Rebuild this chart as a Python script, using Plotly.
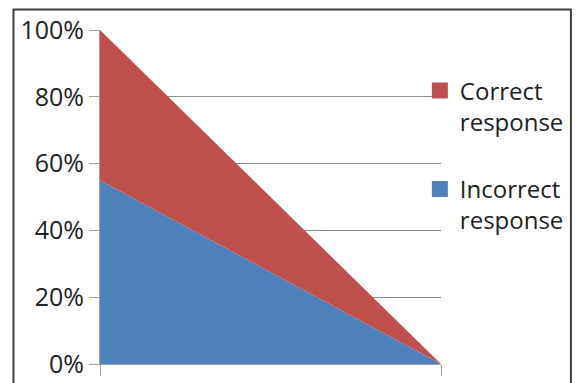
import plotly.graph_objects as go

# Share of responses at the two end points of the scale
x_points = [0, 1]
incorrect_share = [0.55, 0.0]
correct_share = [0.45, 0.0]

area_names = ["Incorrect<br>response", "Correct<br>response"]
area_colors = ["#4F81BD", "#C0504D"]
y_ticks = [0, 0.2, 0.4, 0.6, 0.8, 1.0]

FONT = "Open Sans"

fig = go.Figure()

# Stacked areas (blue on the bottom, red on top)
for name, vals, color in zip(area_names, [incorrect_share, correct_share], area_colors):
    fig.add_trace(go.Scatter(
        x=x_points, y=vals, stackgroup="one", mode="none",
        fillcolor=color, name=name, showlegend=False, hoverinfo="skip",
    ))

# Square swatches for the legend, top entry first
for i, (name, color) in enumerate(zip(area_names[::-1], area_colors[::-1])):
    fig.add_trace(go.Scatter(
        x=[None], y=[None], mode="markers", name=name,
        marker=dict(symbol="square", size=16, color=color),
        legendgroup=f"g{i}",
    ))

fig.update_layout(
    width=579, height=383,
    margin=dict(l=100, r=138, t=30, b=19, autoexpand=False),
    paper_bgcolor="white", plot_bgcolor="white",
    font=dict(family=FONT, size=25, color="#222222"),
    legend=dict(
        x=0.938, y=0.885, xanchor="left", yanchor="top",
        traceorder="grouped", tracegroupgap=33,
        valign="top", itemwidth=30,
        font=dict(family=FONT, size=24, color="#222222"),
        bgcolor="rgba(0,0,0,0)",
    ),
    xaxis=dict(
        range=[0, 1], tickvals=x_points, showticklabels=False,
        ticks="outside", ticklen=11, tickcolor="#A0A0A0",
        showline=True, linecolor="#A0A0A0", linewidth=1,
        showgrid=False, zeroline=False, fixedrange=True, automargin=False,
    ),
    yaxis=dict(
        range=[0, 1], tickvals=y_ticks, tickformat=".0%",
        ticks="outside", ticklen=10, tickcolor="#A0A0A0",
        showline=True, linecolor="#A0A0A0", linewidth=1,
        showgrid=True, gridcolor="#8C8C8C", gridwidth=1,
        zeroline=False, fixedrange=True, automargin=False,
    ),
    showlegend=True,
)

# Outer frame around the chart
fig.add_shape(
    type="rect", xref="paper", yref="paper",
    x0=-0.2537, x1=1.381, y0=-0.09, y1=1.0614,
    line=dict(color="#404040", width=2), fillcolor="rgba(0,0,0,0)",
    layer="above",
)

fig.write_html("out.html")
